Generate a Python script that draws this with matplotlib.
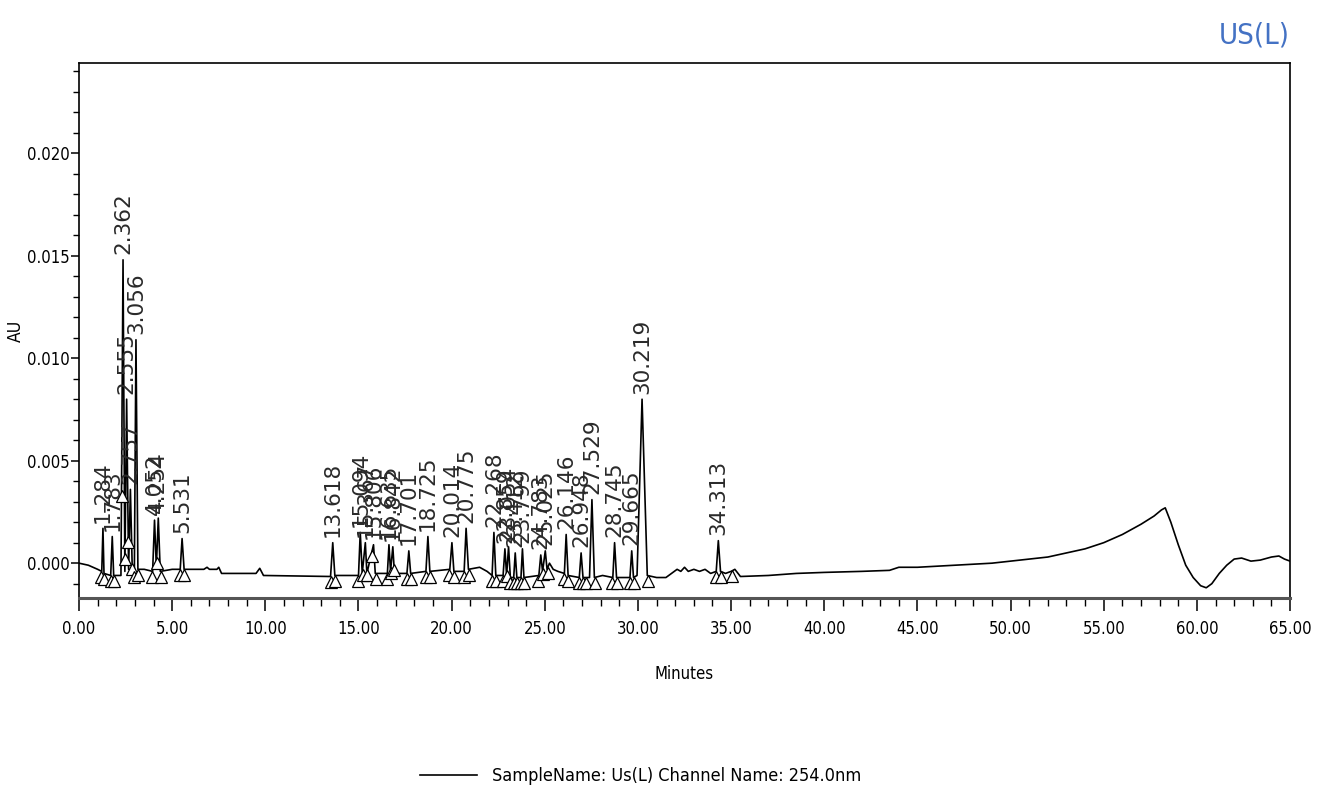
import numpy as np
import matplotlib
matplotlib.use("Agg")
import matplotlib.pyplot as plt
from matplotlib import font_manager
from matplotlib.ticker import MultipleLocator, FormatStrFormatter
from matplotlib.transforms import offset_copy

# look for a narrow sans face for axis text; otherwise use a smaller regular one
narrow = None
for f in font_manager.fontManager.ttflist:
    fn = f.fname.lower()
    if ("narrow" in fn or "condensed" in fn) and "sans" in fn and "mono" not in fn \
            and f.weight in (400, "normal", "regular") and f.style == "normal":
        if narrow is None or "liberation" in fn:
            narrow = f
if narrow is not None:
    NARROW_FAMILY, NARROW_STRETCH, SCALE = narrow.name, narrow.stretch, 1.0
else:
    NARROW_FAMILY, NARROW_STRETCH, SCALE = "Liberation Sans", "normal", 0.95

# baseline points of the 254 nm trace (minutes, AU)
base_t = [0.00, 0.50, 1.00, 1.22, 1.34, 1.70, 1.86, 2.25, 2.46, 2.66, 2.86, 2.97,
          3.16, 3.50, 3.95, 4.15, 4.36, 5.00, 5.43, 5.64, 6.70, 6.87, 7.00, 7.40,
          7.50, 7.65, 9.50, 9.70, 9.90, 13.50, 13.73, 15.00, 15.20, 15.45, 15.90,
          16.55, 16.72, 16.93, 17.60, 17.80, 18.62, 18.83, 19.90, 20.12, 20.67,
          20.90, 21.50, 21.90, 22.17, 22.37, 22.76, 22.95, 23.15, 23.33, 23.50,
          23.72, 23.88, 24.68, 24.88, 25.12, 25.25, 25.45, 25.70, 26.05, 26.25,
          26.85, 27.05, 27.40, 27.66, 28.10, 28.65, 28.85, 29.57, 29.76, 29.95,
          30.50, 31.00, 31.50, 31.80, 32.10, 32.30, 32.50, 32.70, 33.00, 33.30,
          33.60, 33.90, 34.20, 34.43, 34.70, 35.00, 35.20, 35.50, 37.00, 38.50,
          40.00, 42.00, 43.50, 44.00, 45.00, 47.00, 49.00, 50.00, 51.00, 52.00,
          53.00, 54.00, 55.00, 56.00, 57.00, 57.70, 58.10, 58.30, 58.60, 59.00,
          59.40, 59.80, 60.20, 60.50, 60.80, 61.20, 61.60, 62.00, 62.40, 62.90,
          63.40, 64.00, 64.40, 64.70, 65.00]
base_y = [0.0000, -0.0001, -0.0003, -0.0004, -0.0005, -0.0006, -0.0006, -0.0006,
          -0.0004, -0.0003, -0.0004, -0.0004, -0.0003, -0.0003, -0.0004, -0.0002,
          -0.0004, -0.0003, -0.0003, -0.0003, -0.0003, -0.0002, -0.0003, -0.0003,
          -0.0002, -0.0005, -0.0005, -0.00025, -0.0006, -0.00065, -0.0006, -0.0006,
          -0.0005, -0.0005, -0.0005, -0.0005, -0.0004, -0.0005, -0.0005, -0.0005,
          -0.0004, -0.0004, -0.0003, -0.0004, -0.0004, -0.0003, -0.0002, -0.0004,
          -0.0006, -0.0006, -0.0006, -0.0006, -0.0007, -0.0007, -0.0007, -0.0007,
          -0.0007, -0.0006, -0.0004, -0.0003, 0.0000, -0.0003, -0.0004, -0.0005,
          -0.0006, -0.0007, -0.0007, -0.0007, -0.0007, -0.0006, -0.0007, -0.0007,
          -0.0007, -0.0007, -0.0006, -0.0006, -0.0007, -0.0007, -0.0005, -0.0003,
          -0.0004, -0.0002, -0.0004, -0.0003, -0.0004, -0.0003, -0.0005, -0.0004,
          -0.0004, -0.0005, -0.0004, -0.0003, -0.00065, -0.0006, -0.0005, -0.00045,
          -0.0004, -0.00035, -0.0002, -0.0002, -0.0001, 0.0000, 0.0001, 0.0002,
          0.0003, 0.0005, 0.0007, 0.0010, 0.0014, 0.0019, 0.0023, 0.0026, 0.0027,
          0.0020, 0.0009, -0.0001, -0.0007, -0.0011, -0.0012, -0.0010, -0.0005,
          -0.0001, 0.0002, 0.00025, 0.0001, 0.00015, 0.0003, 0.00035, 0.0002, 0.0001]

# integrated peaks: retention time (min) and apex height (AU)
peak_t = [1.284, 1.783, 2.362, 2.555, 2.757, 3.056, 4.052, 4.254, 5.531,
          13.618, 15.094, 15.367, 15.806, 16.635, 16.842, 17.701, 18.725,
          20.014, 20.775, 22.268, 22.859, 23.054, 23.412, 23.799, 24.783,
          25.025, 26.146, 26.948, 27.529, 28.745, 29.665, 30.219, 34.313]
peak_h = [0.0017, 0.0013, 0.0148, 0.0080, 0.0036, 0.0109, 0.0021, 0.0022, 0.0012,
          0.0010, 0.0015, 0.0010, 0.0009, 0.0009, 0.0008, 0.0006, 0.0013,
          0.0010, 0.0017, 0.0015, 0.0007, 0.0008, 0.0005, 0.0007, 0.0004,
          0.0006, 0.0014, 0.0005, 0.0031, 0.0010, 0.0006, 0.0080, 0.0011]

# peak start / end markers (min)
mark_t = [1.20, 1.36, 1.70, 1.88, 2.28, 2.47, 2.64, 2.85, 2.95, 3.18, 3.93, 4.17,
          4.38, 5.42, 5.66, 13.50, 13.74, 14.98, 15.22, 15.44, 15.74, 15.92, 16.52,
          16.74, 16.90, 17.58, 17.82, 18.60, 18.85, 19.88, 20.13, 20.65, 20.92,
          22.15, 22.38, 22.75, 22.97, 23.15, 23.32, 23.50, 23.70, 23.90, 24.65,
          24.90, 25.15, 26.02, 26.27, 26.83, 27.05, 27.20, 27.70, 28.60, 28.87,
          29.55, 29.78, 30.55, 34.20, 34.45, 35.05]

trace = sorted(zip(base_t + peak_t, base_y + peak_h))
trace_t = [p[0] for p in trace]
trace_y = [p[1] for p in trace]

plt.rcParams["font.family"] = [NARROW_FAMILY, "DejaVu Sans"]
plt.rcParams["font.stretch"] = NARROW_STRETCH

fig = plt.figure(figsize=(13.26, 7.98), dpi=100)
ax = fig.add_axes([0.0596, 0.2506, 0.9133, 0.6704])

line, = ax.plot(trace_t, trace_y, color="black", lw=1.2)

mark_y = np.interp(mark_t, trace_t, trace_y)
tri_tr = offset_copy(ax.transData, fig=fig, x=0, y=-4, units="points")
ax.plot(mark_t, mark_y, ls="none", marker="^", ms=8, mfc="white",
        mec="black", mew=0.9, transform=tri_tr)

lab_tr = offset_copy(ax.transData, fig=fig, x=0, y=4, units="points")
for t, h in zip(peak_t, peak_h):
    ax.text(t, h, f"{t:.3f}", rotation=90, ha="center", va="bottom",
            fontsize=15.5, family="DejaVu Sans", stretch="normal",
            color="#2a2a2a", transform=lab_tr)

ax.set_xlim(0, 65)
ax.set_ylim(-0.0017, 0.0244)
ax.xaxis.set_major_locator(MultipleLocator(5))
ax.xaxis.set_minor_locator(MultipleLocator(1))
ax.yaxis.set_major_locator(MultipleLocator(0.005))
ax.yaxis.set_minor_locator(MultipleLocator(0.001))
ax.xaxis.set_major_formatter(FormatStrFormatter("%.2f"))
ax.yaxis.set_major_formatter(FormatStrFormatter("%.3f"))
ax.set_yticks([0.0, 0.005, 0.010, 0.015, 0.020])
ax.tick_params(axis="both", which="major", direction="out",
               labelsize=12 * SCALE, width=1.1)
ax.tick_params(axis="x", which="major", length=9, pad=7)
ax.tick_params(axis="x", which="minor", length=6, width=1.0)
ax.tick_params(axis="y", which="major", length=6, pad=1)
ax.tick_params(axis="y", which="minor", length=4, width=1.0)

for s in ax.spines.values():
    s.set_linewidth(1.2)
ax.spines["bottom"].set_linewidth(2.2)
ax.spines["bottom"].set_color("#555555")

ax.set_xlabel("Minutes", fontsize=12 * SCALE)
ax.set_ylabel("AU", fontsize=12.5 * SCALE)
ax.xaxis.set_label_coords(0.5, -0.125)
ax.yaxis.set_label_coords(-0.045, 0.5)

fig.legend([line], ["SampleName: Us(L) Channel Name: 254.0nm"], loc="center",
           bbox_to_anchor=(0.483, 0.027), frameon=False, fontsize=13 * SCALE,
           handlelength=3.2, handletextpad=0.8)

fig.text(0.973, 0.956, "US(L)", ha="right", va="center", fontsize=21 * SCALE,
         color="#4472C4")

fig.savefig("out.png", dpi=100)
